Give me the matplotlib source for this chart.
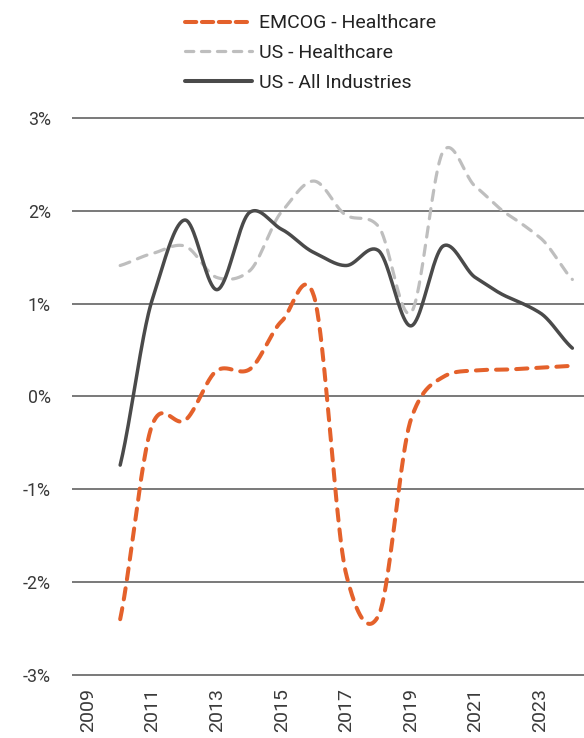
import numpy as np
import matplotlib
matplotlib.use("Agg")
import matplotlib.pyplot as plt
from matplotlib.lines import Line2D

plt.rcParams['font.family'] = ['Roboto', 'DejaVu Sans']

# Annual growth rates (%)
years = [2010, 2011, 2012, 2013, 2014, 2015, 2016, 2017,
         2018, 2019, 2020, 2021, 2022, 2023, 2024]
emcog_healthcare = [-2.40, -0.30, -0.26, 0.28, 0.29, 0.81, 1.08, -1.92,
                    -2.36, -0.25, 0.21, 0.28, 0.29, 0.31, 0.33]
us_healthcare = [1.41, 1.54, 1.62, 1.28, 1.35, 1.99, 2.32, 1.95,
                 1.83, 0.90, 2.64, 2.26, 1.96, 1.71, 1.26]
us_all_industries = [-0.74, 1.05, 1.90, 1.15, 1.98, 1.80, 1.55, 1.41,
                     1.57, 0.76, 1.62, 1.28, 1.07, 0.90, 0.52]

series_names = ["EMCOG - Healthcare", "US - Healthcare", "US - All Industries"]
year_ticks = [2009, 2011, 2013, 2015, 2017, 2019, 2021, 2023]
pct_ticks = [-3, -2, -1, 0, 1, 2, 3]


def smooth(x, y, n=40, tension=0.8):
    """Cardinal spline through the points, like a smoothed line chart."""
    x = np.asarray(x, float)
    y = np.asarray(y, float)
    m = np.empty_like(y)
    m[1:-1] = (y[2:] - y[:-2]) / 2.0
    m[0] = y[1] - y[0]
    m[-1] = y[-1] - y[-2]
    m *= tension
    xs, ys = [], []
    t = np.linspace(0, 1, n, endpoint=False)
    h00 = 2 * t**3 - 3 * t**2 + 1
    h10 = t**3 - 2 * t**2 + t
    h01 = -2 * t**3 + 3 * t**2
    h11 = t**3 - t**2
    for i in range(len(x) - 1):
        xs.append(x[i] + t * (x[i + 1] - x[i]))
        ys.append(h00 * y[i] + h10 * m[i] + h01 * y[i + 1] + h11 * m[i + 1])
    xs.append([x[-1]])
    ys.append([y[-1]])
    return np.concatenate(xs), np.concatenate(ys)


fig = plt.figure(figsize=(5.84, 7.38), dpi=100)
ax = fig.add_axes([0.1228, 0.0792, 0.8772, 0.7673])
ax.set_xlim(2008.5, 2024.36)
ax.set_ylim(-3.05, 3.05)

for v in pct_ticks:
    ax.axhline(v, color="#555555", lw=1.1, zorder=1)

orange = "#E4612B"
gray = "#BEBEBE"
dark = "#4A4A4A"

xs, ys = smooth(years, us_healthcare)
ax.plot(xs, ys, color=gray, lw=2.3, dashes=(3.2, 2.6),
        dash_capstyle="round", zorder=2)
xs, ys = smooth(years, us_all_industries)
ax.plot(xs, ys, color=dark, lw=2.5, solid_capstyle="round", zorder=3)
xs, ys = smooth(years, emcog_healthcare)
ax.plot(xs, ys, color=orange, lw=2.9, dashes=(2.8, 2.2),
        dash_capstyle="round", zorder=4)

ax.set_yticks(pct_ticks)
ax.set_yticklabels([f"{v}%" for v in pct_ticks])
ax.set_xticks(year_ticks)
ax.set_xticklabels([str(y) for y in year_ticks], rotation=90)
ax.tick_params(axis="y", length=0, pad=15, labelsize=12.8, labelcolor="#3a3a3a")
ax.tick_params(axis="x", length=0, pad=6, labelsize=14, labelcolor="#3a3a3a")
for s in ax.spines.values():
    s.set_visible(False)

handles = [
    Line2D([], [], color=orange, lw=2.9, dashes=(2.8, 1.4), dash_capstyle="round"),
    Line2D([], [], color=gray, lw=2.3, dashes=(2.6, 2.4), dash_capstyle="round"),
    Line2D([], [], color=dark, lw=2.9, solid_capstyle="round"),
]
fig.legend(handles, series_names, loc="upper left",
           bbox_to_anchor=(185 / 584, 1 - 14.5 / 738), frameon=False,
           fontsize=14, handlelength=3.45, handletextpad=0.36,
           labelspacing=0.6, borderpad=0, borderaxespad=0,
           labelcolor="#222222")

fig.savefig("out.png", dpi=100, facecolor="white")
